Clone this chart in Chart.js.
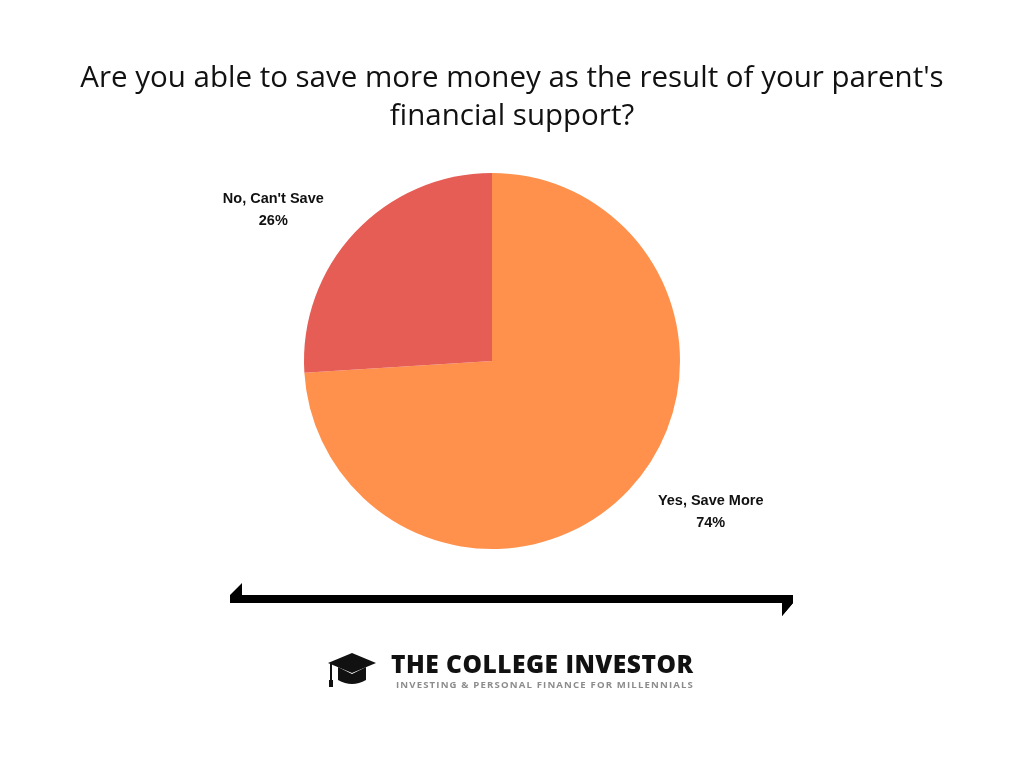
<!DOCTYPE html>
<html>
<head>
<meta charset="utf-8">
<script src="https://cdn.jsdelivr.net/npm/chart.js@4"></script>
<style>
  body { margin: 0; background: #fff; }
  #wrap { position: relative; width: 1024px; height: 768px; overflow: hidden; }
  #pie { position: absolute; left: 0; top: 0; }
  #title {
    position: absolute; left: 0; top: 57px; width: 1024px; text-align: center;
    font-family: "Open Sans", sans-serif; font-weight: 500; font-size: 29.5px; line-height: 38px;
    letter-spacing: 0px; color: #111;
  }
  #logo { position: absolute; left: 326px; top: 650px; }
  #brand {
    position: absolute; left: 391px; top: 647px;
    font-family: "Open Sans", sans-serif; font-weight: 800; font-size: 24.5px; color: #111; letter-spacing: 0.5px;
  }
  #tag {
    position: absolute; left: 396px; top: 678px;
    font-family: "Open Sans", sans-serif; font-weight: 700; font-size: 9.6px; color: #8c8c8c; letter-spacing: 1.15px;
  }
</style>
</head>
<body>
<div id="wrap">
  <canvas id="pie" width="1024" height="768"></canvas>
  <div id="title">Are you able to save more money as the result of your parent's<br>financial support?</div>
  <svg id="line" width="1024" height="768" style="position:absolute;left:0;top:0">
    <polygon points="230,595 242,583 242,595 793,595 793,603 782,603 782,616 793,603 230,603" fill="#000"/>
    <polygon points="782,603 793,603 782,616" fill="#000"/>
  </svg>
  <svg id="logo" width="56" height="40">
    <polygon points="2,13 26,3 50,13 26,23" fill="#111"/>
    <path d="M12,17 L12,30 Q26,38 40,30 L40,17 L26,24 Z" fill="#111"/>
    <rect x="4" y="14" width="2" height="17" fill="#111"/>
    <rect x="3" y="30" width="4" height="7" fill="#111"/>
  </svg>
  <div id="brand">THE COLLEGE INVESTOR</div>
  <div id="tag">INVESTING &amp; PERSONAL FINANCE FOR MILLENNIALS</div>
</div>
<script>
const labels = ["Yes, Save More", "No, Can't Save"];
const values = [74, 26];
const colors = ["#FF914D", "#E55D55"];

/* ---------- Outside labels ---------- */

const outsideLabels = {
  id: "outsideLabels",
  afterDatasetsDraw(chart) {
    const ctx = chart.ctx;
    const meta = chart.getDatasetMeta(0);
    ctx.save();
    ctx.font = "bold 14.5px 'Liberation Sans', Arial, sans-serif";
    ctx.fillStyle = "#111";
    ctx.textAlign = "center";
    ctx.textBaseline = "middle";
    meta.data.forEach((arc, i) => {
      // labels sit a little counter-clockwise of the slice middle
      const mid = (arc.startAngle + arc.endAngle) / 2 - 8.5 * Math.PI / 180;
      const r = arc.outerRadius + 78;
      const x = arc.x + Math.cos(mid) * r;
      const y = arc.y + Math.sin(mid) * r;
      ctx.fillText(labels[i], x, y - 11);
      ctx.fillText(values[i] + "%", x, y + 11);
    });
    ctx.restore();
  }
};

/* ---------- Chart ---------- */

new Chart(document.getElementById("pie"), {
  type: "pie",
  data: {
    labels,
    datasets: [{
      data: values,
      backgroundColor: colors,
      borderWidth: 0
    }]
  },
  options: {
    responsive: false,
    animation: false,
    layout: { padding: { left: 304, right: 344, top: 173, bottom: 219 } },
    plugins: {
      legend: { display: false },
      tooltip: { enabled: false }
    }
  },
  plugins: [outsideLabels]
});
</script>
</body>
</html>
